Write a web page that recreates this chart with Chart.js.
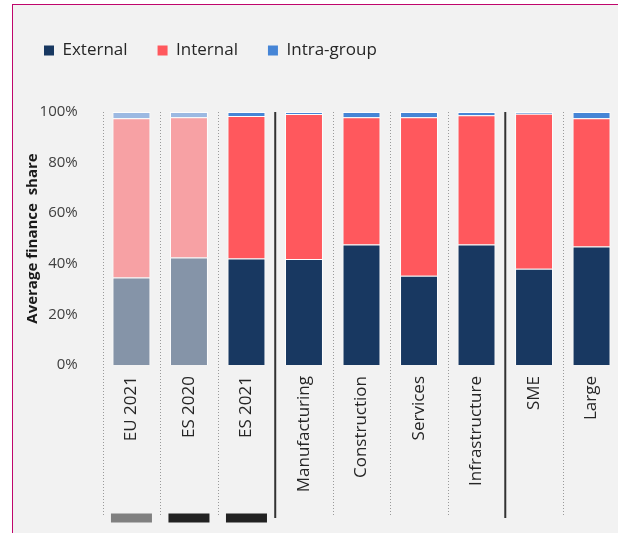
<!DOCTYPE html>
<html lang="en">
<head>
  <meta charset="UTF-8" />
  <title>Average finance share</title>
  <script src="https://cdn.jsdelivr.net/npm/chart.js"></script>
  <style>
    html, body {
      margin: 0;
      padding: 0;
      background: #fff;
      overflow: hidden;
      width: 618px;
      height: 533px;
    }
    .frame {
      position: absolute;
      left: 12px;
      top: 4px;
      width: 640px;
      height: 540px;
      border-left: 1px solid #c0066c;
      border-top: 1px solid #c0066c;
      background: #f2f2f2;
    }
    .wrap {
      position: absolute;
      left: 0;
      top: 0;
      width: 640px;
      height: 533px;
    }
  </style>
</head>
<body>
  <div class="frame"></div>
  <div class="wrap"><canvas id="financeChart"></canvas></div>

  <script>
    const categories = ["EU 2021", "ES 2020", "ES 2021", "Manufacturing", "Construction", "Services", "Infrastructure", "SME", "Large"];
    const external = [34.6, 42.5, 42.1, 41.9, 47.6, 35.3, 47.6, 38.0, 46.8];
    const internal = [62.9, 55.4, 56.3, 57.3, 50.3, 62.6, 51.1, 61.3, 50.7];
    const intraGroup = [2.5, 2.1, 1.6, 0.8, 2.1, 2.1, 1.3, 0.7, 2.5];
    const yTicks = [0, 20, 40, 60, 80, 100];

    // first two bars are drawn faded (comparison)
    const fadedBars = 2;
    // solid separators after these category indexes, dotted elsewhere
    const groupBreaks = [2, 6];
    // small markers under the first three categories
    const markerColors = ["#808080", "#222222", "#222222"];

    const colors = {
      external: ["#183861", "#8594a8"],
      internal: ["#ff585d", "#f7a1a4"],
      intra: ["#4685d6", "#9cb9e2"]
    };
    const legendColors = [colors.external[0], colors.internal[0], colors.intra[0]];

    const pick = pair => ctx => (ctx.dataIndex !== undefined && ctx.dataIndex < fadedBars) ? pair[1] : pair[0];

    // extra room below the legend
    const legendSpace = {
      id: "legendSpace",
      beforeInit(chart) {
        const fit = chart.legend.fit;
        chart.legend.fit = function () {
          fit.call(this);
          this.height += 43;
        };
      }
    };

    const separators = {
      id: "separators",
      afterDraw(chart) {
        const { ctx, chartArea, scales: { x } } = chart;
        const half = (x.getPixelForValue(1) - x.getPixelForValue(0)) / 2;
        ctx.save();
        for (let i = 0; i < categories.length; i++) {
          const px = x.getPixelForValue(i) - half;
          const solid = groupBreaks.includes(i - 1);
          ctx.beginPath();
          if (solid) {
            ctx.setLineDash([]);
            ctx.strokeStyle = "#333";
            ctx.lineWidth = 2;
            ctx.moveTo(px, chartArea.top);
            ctx.lineTo(px, chartArea.bottom + 153);
          } else {
            ctx.setLineDash([1, 2]);
            ctx.strokeStyle = "#9a9a9a";
            ctx.lineWidth = 1;
            ctx.moveTo(Math.round(px) + 0.5, chartArea.top);
            ctx.lineTo(Math.round(px) + 0.5, chartArea.bottom + 151);
          }
          ctx.stroke();
        }
        ctx.setLineDash([]);
        markerColors.forEach((c, i) => {
          const cx = x.getPixelForValue(i);
          ctx.fillStyle = c;
          ctx.fillRect(cx - 20.5, chartArea.bottom + 148.5, 41, 9);
        });
        ctx.restore();
      }
    };

    const ctx = document.getElementById("financeChart").getContext("2d");
    new Chart(ctx, {
      type: "bar",
      data: {
        labels: categories,
        datasets: [
          { label: "External", data: external, backgroundColor: pick(colors.external) },
          { label: "Internal", data: internal, backgroundColor: pick(colors.internal) },
          { label: "Intra-group", data: intraGroup, backgroundColor: pick(colors.intra) }
        ]
      },
      options: {
        responsive: true,
        maintainAspectRatio: false,
        animation: false,
        datasets: {
          bar: {
            categoryPercentage: 1,
            barPercentage: 0.66,
            borderColor: "rgba(255,255,255,0.85)",
            borderWidth: 1
          }
        },
        layout: { padding: { left: 14, right: 19.7, top: 12, bottom: 38 } },
        plugins: {
          legend: {
            position: "top",
            align: "start",
            labels: {
              boxWidth: 10,
              boxHeight: 10,
              padding: 30,
              color: "#262626",
              font: { family: "'Open Sans'", size: 17 },
              generateLabels(chart) {
                const items = Chart.defaults.plugins.legend.labels.generateLabels(chart);
                items.forEach((it, i) => {
                  it.lineWidth = 0;
                  it.fillStyle = legendColors[i];
                  it.strokeStyle = legendColors[i];
                });
                return items;
              }
            }
          },
          tooltip: { enabled: false }
        },
        scales: {
          x: {
            stacked: true,
            grid: { display: false },
            border: { display: false },
            ticks: {
              minRotation: 90,
              maxRotation: 90,
              padding: 3,
              color: "#262626",
              font: { family: "'Open Sans'", size: 17 }
            },
            afterFit: s => { s.height = 130; }
          },
          y: {
            stacked: true,
            min: 0,
            max: 100,
            afterBuildTicks: s => { s.ticks = yTicks.map(v => ({ value: v })); },
            grid: { display: false },
            border: { display: false },
            ticks: {
              padding: 17,
              color: "#404040",
              font: { family: "'Open Sans'", size: 15 },
              callback: v => v + "%"
            },
            title: {
              display: true,
              text: "Average finance  share",
              color: "#1a1a1a",
              font: { family: "'Open Sans'", size: 15, weight: "bold" },
              padding: { top: 10, bottom: 0 }
            },
            afterFit: s => { s.width = 88.7; }
          }
        }
      },
      plugins: [legendSpace, separators]
    });
  </script>
</body>
</html>
